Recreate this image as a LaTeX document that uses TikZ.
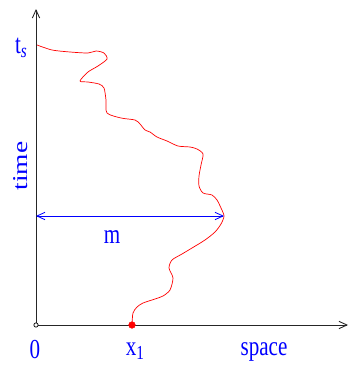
\documentclass[tikz,border=0pt]{standalone}
\usepackage{fontspec}
\setmainfont{Liberation Serif}
\usepackage{graphicx}
\usepackage{tikz}
\usetikzlibrary{arrows.meta}
\definecolor{labblue}{RGB}{0,0,255}
\definecolor{pathred}{RGB}{255,0,0}
\newcommand{\tallt}[1]{\scalebox{1}[1.3]{#1}}
\newcommand{\longt}[1]{\scalebox{1.3}[1]{#1}}
\newcommand{\lowsub}[1]{\raisebox{-0.35ex}{\fontsize{13}{15}\selectfont #1}}
\tikzset{
  ax/.style={line width=0.75pt, black!85, -{Straight Barb[length=2.4mm, width=2.2mm]}},
  ax lab/.style={text=labblue, font=\fontsize{18}{21}\selectfont, inner sep=0pt},
  walk/.style={pathred, line width=0.6pt, line join=round},
  span arr/.style={labblue, line width=0.7pt, {Straight Barb[length=2.4mm, width=2.2mm]}-{Straight Barb[length=2.4mm, width=2.2mm]}},
}
\begin{document}
\begin{tikzpicture}[x=0.03cm, y=-0.03cm,
  origin/.style={circle, draw=black, line width=0.6pt, inner sep=0pt, minimum size=1.3mm, fill=white},
  start/.style={circle, draw=pathred, fill=pathred, inner sep=0pt, minimum size=2mm}]
  \useasboundingbox (0,0) rectangle (349,365);
  % axes
  \coordinate (O) at (36,325);
  \coordinate (ttip) at (36,9);
  \coordinate (xtip) at (348,325);
  \draw[ax] (O) -- (ttip);
  \draw[ax] (O) -- (xtip);
  % the path from x_1 up to t_s
  \draw[walk] plot[smooth, tension=0.45] coordinates {
    (132,324) (133,313) (137,307) (143,303) (155,299) (163,296) (170,290)
    (173,278) (169,268) (172,260) (182,254) (192,248) (205,240) (215,232)
    (221,224) (224,216) (221,208) (217,200) (212,195) (203,193) (199,186)
    (199,176) (201,165) (203,154) (197,149) (190,147) (178,146) (167,141)
    (157,137) (150,132) (145,130) (140,124) (135,120) (121,118) (107,113)
    (106,100) (104,88) (99,84) (88,82) (80,81) (88,72) (98,66) (107,59)
    (104,53) (96,51) (88,53) (70,52) (52,50) (37,45)};
  \node[origin] (o) at (O) {};
  \node[start] (x1) at (132,325) {};
  % maximal extent m
  \coordinate (mL) at (36,216);
  \coordinate (mR) at (224,216);
  \draw[span arr] (mL) -- (mR);
  % labels
  \node[ax lab, anchor=base] (ts) at (21,53) {\tallt{t\lowsub{\textit{s}}}};
  \node[ax lab, rotate=90] (time) at (21,166) {\longt{time}};
  \node[ax lab, anchor=base] (mlab) at (112,243) {\tallt{m}};
  \node[ax lab, anchor=base] (zero) at (35,358) {\tallt{0}};
  \node[ax lab, anchor=base] (x1lab) at (135,355) {\tallt{x\lowsub{1}}};
  \node[ax lab, anchor=base] (space) at (264,355) {\tallt{space}};
\end{tikzpicture}
\end{document}
